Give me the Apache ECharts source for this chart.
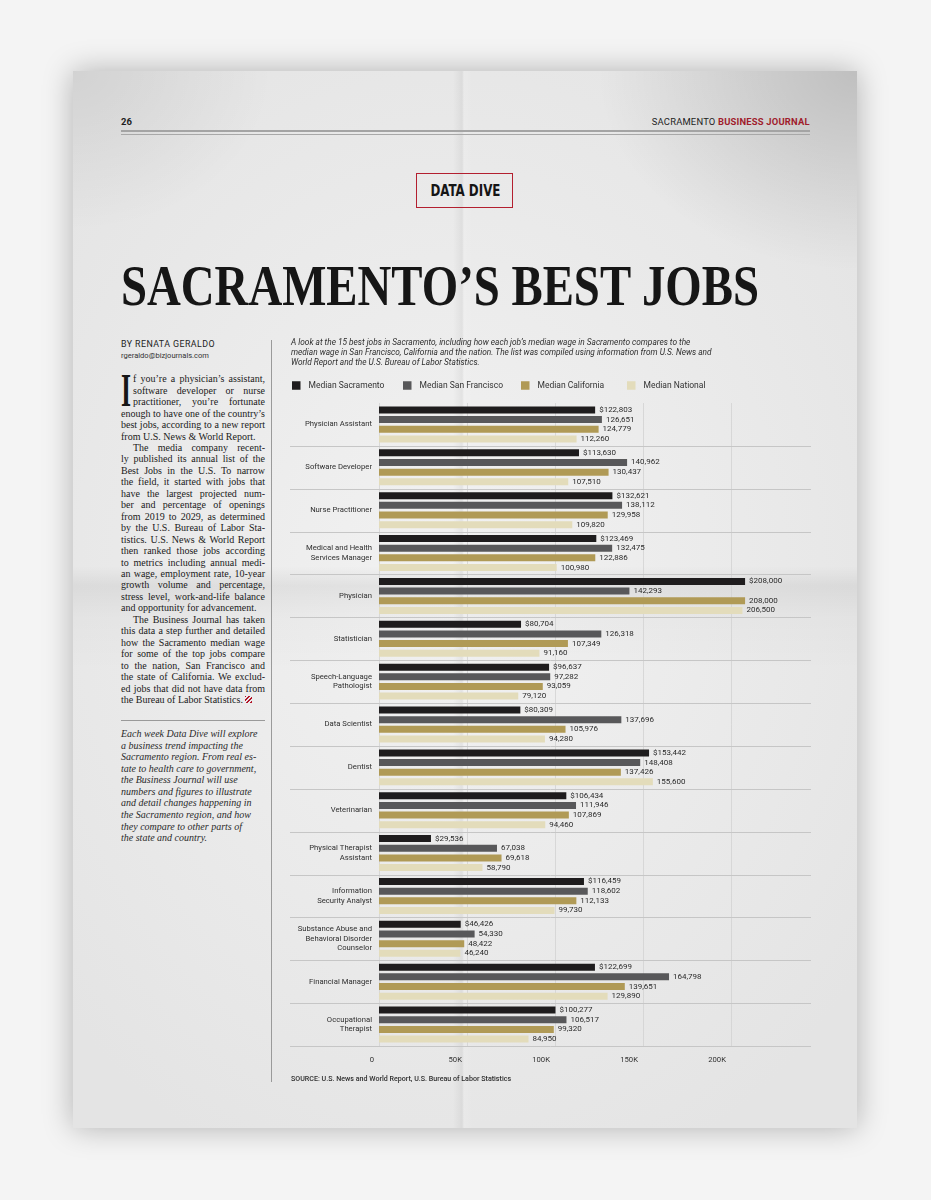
<!DOCTYPE html>
<html>
<head>
<meta charset="utf-8">
<script src="https://cdn.jsdelivr.net/npm/echarts@6/dist/echarts.min.js"></script>
<style>
  html, body { margin:0; padding:0; }
  body { width:931px; height:1200px; position:relative; overflow:hidden; background:#f4f4f4; font-family: Roboto, sans-serif; color:#1e1e1e; }
  .page { position:absolute; left:73px; top:71px; width:784px; height:1057px;
    box-shadow: 0 0 28px rgba(0,0,0,0.28);
    background:
      radial-gradient(ellipse 260px 200px at 100% 0%, rgba(0,0,0,0.16), rgba(0,0,0,0) 100%),
      radial-gradient(ellipse 200px 160px at 0% 0%, rgba(0,0,0,0.08), rgba(0,0,0,0) 100%),
      linear-gradient(90deg, rgba(0,0,0,0) 380px, rgba(0,0,0,0.05) 389px, rgba(255,255,255,0.12) 391px, rgba(255,255,255,0) 400px),
      linear-gradient(180deg, rgba(0,0,0,0) 495px, rgba(0,0,0,0.06) 515px, rgba(0,0,0,0.02) 545px, rgba(0,0,0,0) 600px),
      radial-gradient(ellipse 520px 640px at 48% 48%, #f2f2f2, #e4e4e4 100%);
  }
  .abs { position:absolute; white-space:nowrap; }
  .fit { display:inline-block; transform-origin: left center; }
  .rule { position:absolute; }
  .body-col { position:absolute; left:121px; top:373.3px; width:144px; font-family:"Liberation Serif", serif; font-size:10px; line-height:11.46px; color:#1a1a1a; }
  .ln { display:block; width:144px; white-space:nowrap; text-align:justify; text-align-last:justify; height:11.46px; overflow:visible; }
  .ln.last { text-align-last:left; }
  .ln.ind { padding-left:12px; width:132px; }
  .ln.cap { padding-left:12px; width:132px; }
  .ital { position:absolute; left:121px; top:728.2px; width:150px; font-family:"Liberation Serif", serif; font-style:italic; font-size:10px; line-height:11.56px; color:#2a2a2a; }
  .ital div { white-space:nowrap; height:11.56px; }
  #chart { position:absolute; left:280px; top:330px; width:550px; height:770px; }
  .endmark { display:inline-block; width:7px; height:7px; margin-left:2px; vertical-align:-0.5px;
    background: repeating-linear-gradient(135deg, #b3162a 0 1.4px, rgba(0,0,0,0) 1.4px 2.6px); }
</style>
</head>
<body>
<div class="page"></div>

<!-- header -->
<div class="abs" style="left:121px; top:116px; font-size:9.5px; font-weight:700; line-height:12px;">26</div>
<div class="abs" id="mast" style="right:121px; top:116px; font-size:9.5px; line-height:12px; letter-spacing:0.2px; text-align:right;">
  <span class="fit" data-w="158" style="transform-origin:right center;">SACRAMENTO <b style="color:#a01c2c;">BUSINESS JOURNAL</b></span>
</div>
<div class="rule" style="left:121px; top:129.5px; width:689px; height:2px; background:#a4a4a4;"></div>
<div class="rule" style="left:121px; top:133.5px; width:689px; height:1px; background:#a8a8a8;"></div>

<!-- data dive box -->
<div class="rule" style="left:416px; top:173px; width:95px; height:33px; border:1.6px solid #b31f2f;"></div>
<div class="abs" style="left:416px; top:181px; width:98px; text-align:center; font-family:'DejaVu Sans Condensed','DejaVu Sans',sans-serif; font-weight:700; font-size:16px; line-height:20px; color:#151515;">
  <span class="fit" data-w="70" style="transform-origin:center center;">DATA DIVE</span>
</div>

<!-- main title -->
<div class="abs" style="left:121px; top:257.3px; font-family:'Liberation Serif',serif; font-weight:700; font-size:57px; line-height:57px; color:#161616;">
  <span class="fit" data-w="638">SACRAMENTO’S BEST JOBS</span>
</div>

<!-- byline -->
<div class="abs" style="left:121px; top:339px; font-size:8.3px; line-height:10px; letter-spacing:0.4px; color:#222;"><span class="fit" data-w="94">BY RENATA GERALDO</span></div>
<div class="abs" style="left:121px; top:350.5px; font-size:7.2px; line-height:9px; color:#333;"><span class="fit" data-w="88">rgeraldo@bizjournals.com</span></div>

<!-- column rule -->
<div class="rule" style="left:271px; top:340px; width:1px; height:742px; background:#9a9a9a;"></div>

<!-- drop cap -->
<div class="abs" style="left:121px; top:366.5px; font-family:'Liberation Serif',serif; font-weight:700; font-size:47px; line-height:47px; color:#161616;"><span class="fit" data-w="10">I</span></div>

<div class="body-col">
  <span class="ln cap">f you’re a physician’s assistant,</span>
  <span class="ln cap">software developer or nurse</span>
  <span class="ln cap">practitioner, you’re fortunate</span>
  <span class="ln">enough to have one of the country’s</span>
  <span class="ln">best jobs, according to a new report</span>
  <span class="ln last">from U.S. News &amp; World Report.</span>
  <span class="ln ind">The media company recent-</span>
  <span class="ln">ly published its annual list of the</span>
  <span class="ln">Best Jobs in the U.S. To narrow</span>
  <span class="ln">the field, it started with jobs that</span>
  <span class="ln">have the largest projected num-</span>
  <span class="ln">ber and percentage of openings</span>
  <span class="ln">from 2019 to 2029, as determined</span>
  <span class="ln">by the U.S. Bureau of Labor Sta-</span>
  <span class="ln">tistics. U.S. News &amp; World Report</span>
  <span class="ln">then ranked those jobs according</span>
  <span class="ln">to metrics including annual medi-</span>
  <span class="ln">an wage, employment rate, 10-year</span>
  <span class="ln">growth volume and percentage,</span>
  <span class="ln">stress level, work-and-life balance</span>
  <span class="ln last">and opportunity for advancement.</span>
  <span class="ln ind">The Business Journal has taken</span>
  <span class="ln">this data a step further and detailed</span>
  <span class="ln">how the Sacramento median wage</span>
  <span class="ln">for some of the top jobs compare</span>
  <span class="ln">to the nation, San Francisco and</span>
  <span class="ln">the state of California. We exclud-</span>
  <span class="ln">ed jobs that did not have data from</span>
  <span class="ln last">the Bureau of Labor Statistics.<span class="endmark"></span></span>
</div>

<div class="rule" style="left:121px; top:719.5px; width:144px; height:1px; background:#9a9a9a;"></div>

<div class="ital">
  <div>Each week Data Dive will explore</div>
  <div>a business trend impacting the</div>
  <div>Sacramento region. From real es-</div>
  <div>tate to health care to government,</div>
  <div>the Business Journal will use</div>
  <div>numbers and figures to illustrate</div>
  <div>and detail changes happening in</div>
  <div>the Sacramento region, and how</div>
  <div>they compare to other parts of</div>
  <div>the state and country.</div>
</div>

<div id="chart"></div>

<script>
// ---- data ----
const categories = [
  'Physician Assistant',
  'Software Developer',
  'Nurse Practitioner',
  'Medical and Health\nServices Manager',
  'Physician',
  'Statistician',
  'Speech-Language\nPathologist',
  'Data Scientist',
  'Dentist',
  'Veterinarian',
  'Physical Therapist\nAssistant',
  'Information\nSecurity Analyst',
  'Substance Abuse and\nBehavioral Disorder\nCounselor',
  'Financial Manager',
  'Occupational\nTherapist'
];
const seriesNames = ['Median Sacramento', 'Median San Francisco', 'Median California', 'Median National'];
const sacramento   = [122803, 113630, 132621, 123469, 208000, 80704, 96637, 80309, 153442, 106434, 29536, 116459, 46426, 122699, 100277];
const sanFrancisco = [126651, 140962, 138112, 132475, 142293, 126318, 97282, 137696, 148408, 111946, 67038, 118602, 54330, 164798, 106517];
const california   = [124779, 130437, 129958, 122886, 208000, 107349, 93059, 105976, 137426, 107869, 69618, 112133, 48422, 139651, 99320];
const national     = [112260, 107510, 109820, 100980, 206500, 91160, 79120, 94280, 155600, 94460, 58790, 99730, 46240, 129890, 84950];
const xTicks = [0, 50000, 100000, 150000, 200000];
const subtitle = 'A look at the 15 best jobs in Sacramento, including how each job’s median wage in Sacramento compares to the\nmedian wage in San Francisco, California and the nation. The list was compiled using information from U.S. News and\nWorld Report and the U.S. Bureau of Labor Statistics.';
const source = 'SOURCE: U.S. News and World Report, U.S. Bureau of Labor Statistics';

const colors = ['#1e1c1d', '#58585a', '#b09a56', '#e3dcbb'];
const FONT = 'Roboto, sans-serif';

// fit text spans
document.querySelectorAll('.fit').forEach(el => {
  const w = parseFloat(el.dataset.w);
  const nat = el.getBoundingClientRect().width;
  if (nat > 0) el.style.transform = 'scaleX(' + (w / nat) + ')';
});
// squeeze body lines that overflow
document.querySelectorAll('.ln').forEach(el => {
  const avail = el.clientWidth - (parseFloat(getComputedStyle(el).paddingLeft) || 0);
  const r = document.createRange(); r.selectNodeContents(el);
  const nat = r.getBoundingClientRect().width;
  if (nat > avail) {
    const n = el.textContent.length;
    el.style.letterSpacing = (-(nat - avail + 0.5) / n) + 'px';
  }
});

const fmt = v => v.toLocaleString('en-US');
const chart = echarts.init(document.getElementById('chart'), null, { renderer: 'canvas' });

const seriesData = [sacramento, sanFrancisco, california, national];
const legendLefts = [12, 123, 241, 347];

const option = {
  backgroundColor: 'transparent',
  animation: false,
  textStyle: { fontFamily: FONT },
  title: [
    { text: subtitle, left: 11, top: 8, padding: 0,
      textStyle: { fontFamily: FONT, fontSize: 8.3, fontStyle: 'italic', fontWeight: 'normal', color: '#2e2e2e', lineHeight: 10 } },
    { text: source, left: 11, top: 745, padding: 0,
      textStyle: { fontFamily: FONT, fontSize: 7.1, fontWeight: 500, color: '#2e2e2e', lineHeight: 8 } }
  ],
  legend: seriesNames.map((n, i) => ({
    data: [n], left: legendLefts[i], top: 51, padding: 0, itemWidth: 8.5, itemHeight: 8.5, icon: 'rect',
    selectedMode: false,
    textStyle: { fontFamily: FONT, fontSize: 8.5, color: '#333', padding: [0, 0, 0, 3] }
  })),
  grid: { left: 99, top: 73, width: 440, height: 643, containLabel: false },
  xAxis: {
    type: 'value', min: 0, max: 250000, interval: 50000,
    axisLine: { show: false }, axisTick: { show: false },
    splitLine: { show: true, showMaxLine: false, lineStyle: { color: '#d2d2d2', width: 0.8 } },
    axisLabel: {
      showMaxLabel: false, margin: 10, fontSize: 7.7, color: '#333', fontFamily: FONT,
      align: 'right', padding: [0, 5, 0, 0],
      formatter: v => xTicks.includes(v) ? (v === 0 ? '0' : (v / 1000) + 'K') : ''
    }
  },
  yAxis: {
    type: 'category', data: categories, inverse: true,
    axisLine: { show: false }, axisTick: { show: false }, splitLine: { show: false },
    axisLabel: { fontSize: 7.7, color: '#2e2e2e', lineHeight: 9.4, margin: 7, fontFamily: FONT, align: 'right' }
  },
  series: [
    {
      type: 'custom', name: 'sep', silent: true, clip: false, z: 1,
      data: categories.map((c, i) => [0, i]),
      encode: { x: 0, y: 1 },
      renderItem: (params, api) => {
        const p = api.coord([0, api.value(1)]);
        const band = api.size([0, 1])[1];
        const y = Math.round(p[1] + band / 2) + 0.5;
        return { type: 'line', shape: { x1: p[0] - 89, y1: y, x2: p[0] + 432, y2: y },
          style: { stroke: '#c6c6c6', lineWidth: 1 } };
      }
    },
    ...seriesNames.map((n, i) => ({
      type: 'bar', name: n, data: seriesData[i], barWidth: 7, barGap: '38%', z: 3,
      itemStyle: { color: colors[i] },
      label: {
        show: true, position: 'right', distance: 4, fontSize: 8, color: '#2a2a2a', fontFamily: FONT,
        formatter: p => (i === 0 ? '$' : '') + fmt(p.value)
      }
    }))
  ]
};
chart.setOption(option);
</script>
</body>
</html>
